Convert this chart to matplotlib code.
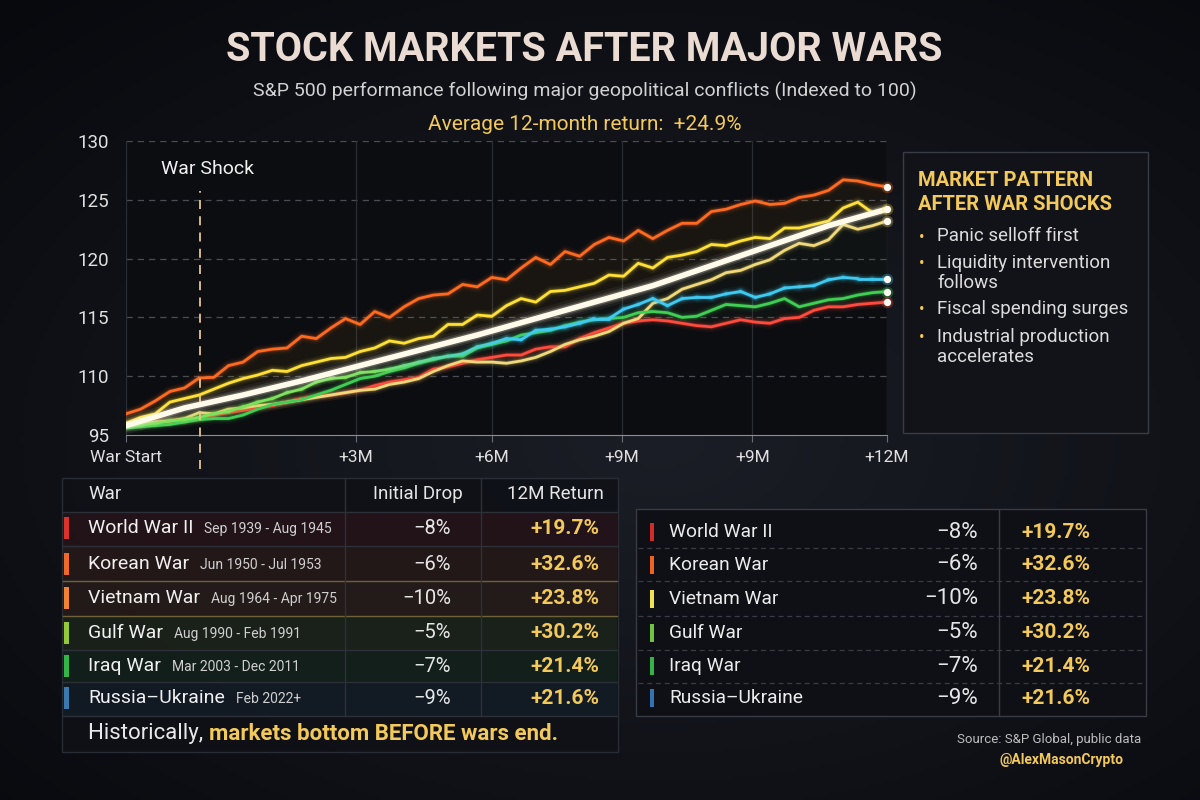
import numpy as np
import matplotlib
matplotlib.use('Agg')
import matplotlib.pyplot as plt
from matplotlib.patches import Rectangle
from matplotlib.collections import LineCollection
import matplotlib.colors as mcolors

plt.rcParams['font.family'] = ['Roboto', 'DejaVu Sans']

# weekly index values (week 0 = war start, week 52 = +12M)
weeks = np.arange(53)
wwii = [105.9, 106.0, 106.1, 106.2, 106.3, 106.4, 106.7, 106.9, 107.1, 107.3,
        107.5, 107.8, 108.1, 108.3, 108.4, 108.6, 108.8, 109.2, 109.5, 109.7,
        109.9, 110.6, 110.8, 111.1, 111.4, 111.6, 111.8, 111.8, 112.3, 112.5,
        112.5, 113.2, 113.7, 114.1, 114.5, 114.7, 114.8, 114.7, 114.5, 114.3,
        114.2, 114.5, 114.8, 114.6, 114.5, 114.9, 115.0, 115.6, 115.9, 115.9,
        116.1, 116.2, 116.3]
korea = [106.8, 107.2, 107.9, 108.7, 109.0, 109.85, 109.9, 110.9, 111.2, 112.1,
         112.3, 112.4, 113.4, 113.2, 114.1, 114.9, 114.4, 115.5, 115.0, 115.9,
         116.6, 116.9, 117.0, 117.8, 117.6, 118.4, 118.2, 119.2, 120.1, 119.5,
         120.6, 120.2, 121.2, 121.8, 121.5, 122.4, 121.7, 122.4, 123.0, 123.0,
         124.0, 124.2, 124.6, 124.9, 124.6, 124.7, 125.2, 125.4, 125.8, 126.7,
         126.6, 126.3, 126.1]
vietnam = [106.0, 106.5, 106.8, 107.8, 108.1, 108.4, 108.9, 109.4, 109.8, 110.1,
           110.5, 110.4, 110.9, 111.2, 111.5, 111.6, 112.1, 112.4, 113.0, 112.8,
           113.2, 113.4, 114.4, 114.4, 115.2, 115.1, 116.0, 116.6, 116.3, 117.2,
           117.3, 117.6, 117.9, 118.6, 118.5, 119.6, 119.2, 120.1, 120.3, 120.6,
           121.2, 121.1, 121.5, 121.8, 121.7, 122.6, 122.6, 122.9, 123.2, 124.3,
           124.8, 123.9, 124.2]
gulf = [105.8, 105.9, 106.1, 106.2, 106.4, 106.9, 106.8, 107.2, 107.3, 107.5,
        107.6, 107.8, 108.0, 108.2, 108.4, 108.6, 108.8, 108.9, 109.3, 109.5,
        109.8, 110.4, 110.9, 111.3, 111.2, 111.2, 111.1, 111.3, 111.6, 112.1,
        112.7, 113.1, 113.4, 113.8, 114.5, 114.9, 116.2, 116.6, 117.4, 117.8,
        118.2, 118.8, 119.0, 119.5, 119.9, 120.7, 121.3, 121.1, 121.6, 122.9,
        122.5, 122.8, 123.2]
iraq = [105.6, 105.7, 105.8, 105.9, 106.1, 106.3, 106.4, 106.4, 106.7, 107.2,
        107.6, 107.8, 108.0, 108.4, 108.8, 109.3, 109.8, 110.0, 110.4, 110.7,
        111.1, 111.4, 111.7, 111.7, 112.4, 112.7, 113.0, 113.5, 113.7, 113.9,
        114.3, 114.6, 114.8, 114.9, 115.0, 115.4, 115.5, 115.4, 115.0, 115.1,
        115.6, 116.1, 116.0, 115.9, 116.2, 116.6, 115.9, 116.2, 116.5, 116.6,
        116.9, 117.1, 117.2]
russia = [105.7, 105.85, 106.0, 106.2, 106.3, 106.5, 106.8, 107.0, 107.4, 107.8,
          108.1, 108.6, 108.9, 109.5, 109.8, 109.9, 110.3, 110.4, 110.6, 110.9,
          111.2, 111.5, 111.7, 111.9, 112.5, 112.8, 113.2, 113.1, 113.9, 114.0,
          114.2, 114.5, 114.9, 114.9, 115.7, 116.1, 116.6, 116.0, 116.6, 116.7,
          116.7, 117.0, 117.2, 116.7, 117.0, 117.5, 117.6, 117.7, 118.2, 118.4,
          118.3, 118.3, 118.3]
avg_weeks = [0, 4, 8, 12, 16, 20, 24, 28, 32, 36, 40, 44, 48, 52]
average = [105.8, 107.3, 108.4, 109.6, 110.9, 112.2, 113.5, 114.9, 116.3, 117.7,
           119.4, 121.1, 122.8, 124.2]

x_tick_weeks = [0, 15.7, 25.0, 33.9, 42.8, 52]
x_tick_labels = ['War Start', '+3M', '+6M', '+9M', '+9M', '+12M']
y_ticks = [105, 110, 115, 120, 125, 130]
y_tick_labels = ['95', '110', '115', '120', '125', '130']
war_shock_week = 5.06

wars = ['World War II', 'Korean War', 'Vietnam War', 'Gulf War', 'Iraq War', 'Russia\u2013Ukraine']
periods = ['Sep 1939 - Aug 1945', 'Jun 1950 - Jul 1953', 'Aug 1964 - Apr 1975',
           'Aug 1990 - Feb 1991', 'Mar 2003 - Dec 2011', 'Feb 2022+']
drops = ['\u22128%', '\u22126%', '\u221210%', '\u22125%', '\u22127%', '\u22129%']
returns = ['+19.7%', '+32.6%', '+23.8%', '+30.2%', '+21.4%', '+21.6%']
pattern_items = ['Panic selloff first', 'Liquidity intervention\nfollows',
                 'Fiscal spending surges', 'Industrial production\naccelerates']

GOLD = '#f3c95a'
TXT = '#e6e6e6'

fig = plt.figure(figsize=(12, 8), dpi=100, facecolor='#0f1117')
renderer = fig.canvas.get_renderer()


def fx(x):
    return x / 1200


def fy(y):
    return 1 - y / 800


# background vignette
bg = fig.add_axes([0, 0, 1, 1], zorder=-10)
yy, xx = np.mgrid[0:1:200j, 0:1:300j]
r = np.sqrt(((xx - 0.55) / 0.8) ** 2 + ((yy - 0.45) / 0.75) ** 2)
c0 = np.array(mcolors.to_rgb('#1b1e26'))
c1 = np.array(mcolors.to_rgb('#08090d'))
t = np.clip(r, 0, 1)[..., None]
bg.imshow(c0 * (1 - t) + c1 * t, extent=[0, 1, 0, 1], aspect='auto', origin='lower')
bg.axis('off')

# titles
fig.text(fx(584), fy(50), 'STOCK MARKETS AFTER MAJOR WARS', ha='center', va='center',
         fontsize=28.5, fontweight='bold', color='#eadcd3')
fig.text(fx(585), fy(91), 'S&P 500 performance following major geopolitical conflicts (Indexed to 100)',
         ha='center', va='center', fontsize=14, color='#d2d2d2')
fig.text(fx(585), fy(125), 'Average 12-month return:  +24.9%', ha='center', va='center',
         fontsize=15, color=GOLD)

# main chart
ax = fig.add_axes([fx(126), fy(435), (887 - 126) / 1200, (435 - 141) / 800])
ax.set_facecolor('#0c0d11')
ax.set_xlim(0, 52)
ax.set_ylim(105, 130)
for s in ['top', 'right', 'left']:
    ax.spines[s].set_visible(False)
ax.spines['bottom'].set_color('#8a8d96')
ax.set_yticks(y_ticks)
ax.set_yticklabels(y_tick_labels)
ax.set_xticks(x_tick_weeks)
ax.set_xticklabels(x_tick_labels)
ax.tick_params(axis='y', length=0, pad=12, labelsize=13.5, labelcolor='#e0e0e0')
ax.tick_params(axis='x', length=5, color='#6a6d76', pad=6, labelsize=12.5, labelcolor='#e0e0e0')
for yv in y_ticks[1:]:
    ax.axhline(yv, color='#4a4d56', lw=0.9, ls=(0, (5, 4)), zorder=1)
for xv in x_tick_weeks:
    ax.axvline(xv, color='#2a2d34', lw=0.9, zorder=1)

series = [(wwii, '#ff4a3c'), (korea, '#ff6a1f'), (vietnam, '#ffe035'),
          (gulf, '#f0d97a'), (iraq, '#3fcf55')]
all_y = np.array([wwii, korea, vietnam, gulf, iraq, russia])
lo = all_y.min(axis=0)
hi = all_y.max(axis=0)
avg_full = np.interp(weeks, avg_weeks, average)
ax.fill_between(weeks, avg_full, hi, color='#c8921e', alpha=0.07, lw=0, zorder=1.5)
ax.fill_between(weeks, lo, avg_full, color='#5a7a3a', alpha=0.06, lw=0, zorder=1.5)


def glow(x, y, color, lw=2.0, z=3, spread=(4, 2.6, 1.6)):
    for w, a in zip(spread, (0.05, 0.10, 0.22)):
        ax.plot(x, y, color=color, lw=lw * w, alpha=a, solid_capstyle='round', zorder=z)
    ax.plot(x, y, color=color, lw=lw, zorder=z + 0.5, solid_joinstyle='round')


for ys, col in series:
    glow(weeks, ys, col)

# Russia-Ukraine: green early, turning cyan
pts = np.column_stack([weeks, russia]).reshape(-1, 1, 2)
segs = np.concatenate([pts[:-1], pts[1:]], axis=1)
frac = np.clip((weeks[:-1] - 16) / 10, 0, 1)[:, None]
ca = np.array(mcolors.to_rgb('#7be25a'))
cb = np.array(mcolors.to_rgb('#3fcaf2'))
cols = ca * (1 - frac) + cb * frac
for w, a in [(8, 0.05), (5.2, 0.10), (3.2, 0.22), (2.0, 1.0)]:
    lc = LineCollection(segs, colors=np.column_stack([cols, np.full(len(cols), a)]),
                        linewidths=w, zorder=3.5, capstyle='round')
    ax.add_collection(lc)

# average line
glow(avg_weeks, average, '#fffaea', lw=4.0, z=5, spread=(3.2, 2.2, 1.5))

for ys, col in series + [(russia, '#3fcaf2')]:
    ax.scatter(52, ys[-1], s=70, color=col, alpha=0.3, lw=0, clip_on=False, zorder=6)
    ax.scatter(52, ys[-1], s=28, color='#fffaf0', lw=0, clip_on=False, zorder=7)

ax.axvline(war_shock_week, ymin=-0.115, ymax=0.83, color='#e6c58a', lw=1.3,
           ls=(0, (5, 4)), clip_on=False, zorder=4)
ax.text(2.4, 127.6, 'War Shock', fontsize=14, color='#f0f0f0', va='center')

# market pattern panel
fig.patches.append(Rectangle((fx(903), fy(433)), (1148 - 903) / 1200, (433 - 152) / 800,
                             transform=fig.transFigure, facecolor='#111319',
                             edgecolor='#3a3c45', lw=1))
fig.text(fx(918), fy(181), 'MARKET PATTERN', fontsize=14.5, fontweight='bold', color=GOLD, va='center')
fig.text(fx(918), fy(205), 'AFTER WAR SHOCKS', fontsize=14.5, fontweight='bold', color=GOLD, va='center')
item_y = [237, 264, 310, 338]
for yv, item in zip(item_y, pattern_items):
    fig.text(fx(919), fy(yv), '\u2022', fontsize=12, color=GOLD, va='center')
    fig.text(fx(937), fy(yv - 10), item, fontsize=13.5, color='#dcdcdc', va='top', linespacing=1.12)

# left table
left_colors = ['#d8322a', '#f0692a', '#f08232', '#92c83a', '#33b348', '#3a78b0']
fig.patches.append(Rectangle((fx(62), fy(752)), (618 - 62) / 1200, (752 - 478) / 800,
                             transform=fig.transFigure, facecolor='#0f1117',
                             edgecolor='#2e3039', lw=1, alpha=0.9))
fig.text(fx(88), fy(494), 'War', fontsize=13.5, color=TXT, va='center')
fig.text(fx(418), fy(494), 'Initial Drop', fontsize=13.5, color=TXT, va='center', ha='center')
fig.text(fx(555), fy(494), '12M Return', fontsize=13.5, color=TXT, va='center', ha='center')
row_y = [528, 564, 598, 633, 666, 698]
sep_y = [512, 546, 581, 616, 650, 682, 716]
for i, (name, per, d, rt, col) in enumerate(zip(wars, periods, drops, returns, left_colors)):
    yc = row_y[i]
    fig.patches.append(Rectangle((fx(63), fy(sep_y[i + 1])), (617 - 63) / 1200,
                                 (sep_y[i + 1] - sep_y[i]) / 800, transform=fig.transFigure,
                                 facecolor=col, alpha=0.09, lw=0))
    fig.patches.append(Rectangle((fx(64), fy(yc + 11)), 5 / 1200, 22 / 800,
                                 transform=fig.transFigure, facecolor=col, lw=0))
    tn = fig.text(fx(88), fy(yc), name, fontsize=14, color='#f0f0f0', va='center')
    bb = tn.get_window_extent(renderer)
    fig.text((bb.x1 + 11) / 1200, fy(yc + 1), per, fontsize=10, color='#d0d0d0', va='center')
    fig.text(fx(451), fy(yc), d, fontsize=14.5, color=TXT, va='center', ha='right')
    fig.text(fx(599), fy(yc), rt, fontsize=15, fontweight='bold', color=GOLD, va='center', ha='right')
for yv in sep_y:
    lcol = '#6e6238' if yv in (581, 616) else '#2e3039'
    fig.add_artist(plt.Line2D([fx(63), fx(617)], [fy(yv), fy(yv)], color=lcol, lw=1))
for xv in [345, 481]:
    fig.add_artist(plt.Line2D([fx(xv), fx(xv)], [fy(478), fy(716)], color='#2e3039', lw=1))
tf = fig.text(fx(88), fy(734), 'Historically, ', fontsize=16, color='#e8e8e8', va='center')
bb = tf.get_window_extent(renderer)
fig.text(bb.x1 / 1200, fy(734), 'markets bottom BEFORE wars end.', fontsize=16,
         fontweight='bold', color=GOLD, va='center')

# right table
right_colors = ['#d42a2a', '#f0621f', '#f2e252', '#6fc440', '#33b348', '#3273b4']
fig.patches.append(Rectangle((fx(636), fy(716)), (1146 - 636) / 1200, (716 - 509) / 800,
                             transform=fig.transFigure, facecolor='#0e1015',
                             edgecolor='#3a3c45', lw=1))
for yv in [548, 581, 616, 650, 683]:
    fig.add_artist(plt.Line2D([fx(638), fx(1144)], [fy(yv), fy(yv)], color='#3a3c45',
                              lw=0.9, ls=(0, (4, 3))))
fig.add_artist(plt.Line2D([fx(999), fx(999)], [fy(510), fy(715)], color='#3a3c45', lw=1))
right_y = [532, 565, 599, 633, 666, 698]
for yc, name, d, rt, col in zip(right_y, wars, drops, returns, right_colors):
    fig.patches.append(Rectangle((fx(650), fy(yc + 9)), 4 / 1200, 18 / 800,
                                 transform=fig.transFigure, facecolor=col, lw=0))
    fig.text(fx(669), fy(yc), name, fontsize=13.8, color='#ececec', va='center')
    fig.text(fx(978), fy(yc), d, fontsize=16, color=TXT, va='center', ha='right')
    fig.text(fx(1021), fy(yc), rt, fontsize=15, fontweight='bold', color=GOLD, va='center')

fig.text(fx(1141), fy(740), 'Source: S&P Global, public data', fontsize=9.5, color='#bdbdbd',
         ha='right', va='center')
fig.text(fx(1124), fy(760), '@AlexMasonCrypto', fontsize=10, fontweight='bold', color=GOLD,
         ha='right', va='center')

fig.savefig('out.png', dpi=100, facecolor=fig.get_facecolor())
